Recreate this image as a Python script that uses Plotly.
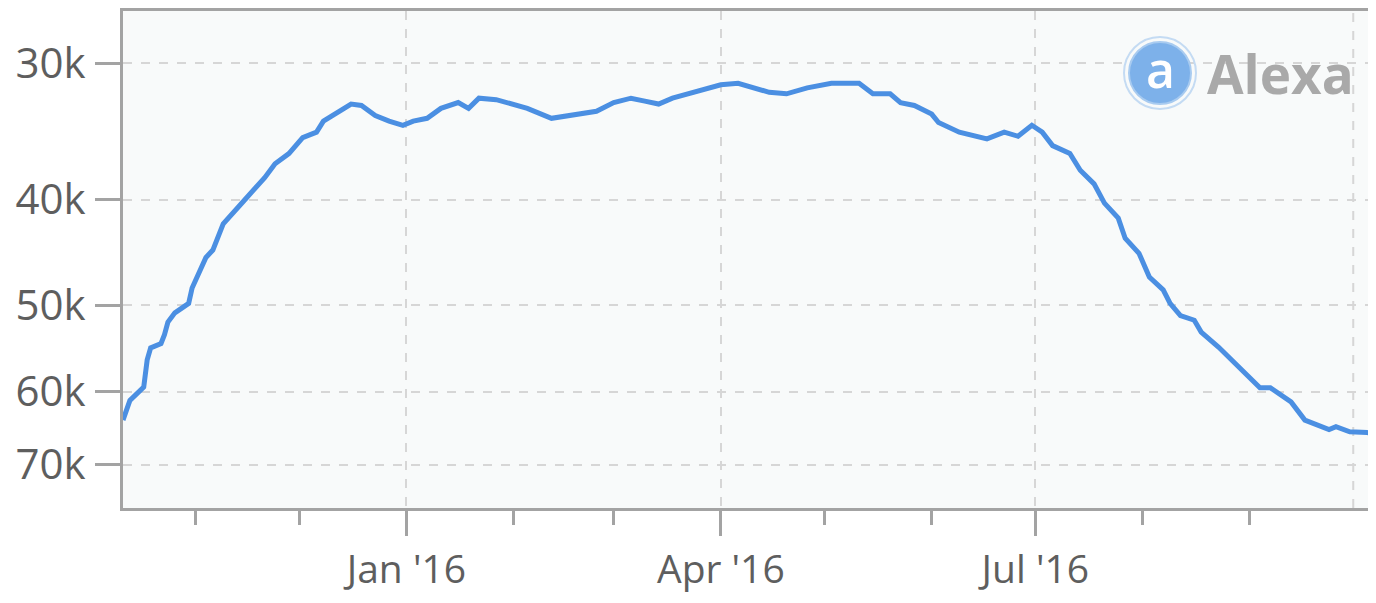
import plotly.graph_objects as go

# ---- data (Alexa traffic rank) ----
dates = [
    "2015-10-11", "2015-10-13", "2015-10-17", "2015-10-18", "2015-10-19", "2015-10-22",
    "2015-10-23", "2015-10-24", "2015-10-26", "2015-10-30", "2015-10-31", "2015-11-02",
    "2015-11-04", "2015-11-06", "2015-11-09", "2015-11-15", "2015-11-21", "2015-11-24",
    "2015-11-28", "2015-12-02", "2015-12-06", "2015-12-08", "2015-12-13", "2015-12-16",
    "2015-12-19", "2015-12-23", "2015-12-27", "2015-12-31", "2016-01-03", "2016-01-07",
    "2016-01-11", "2016-01-16", "2016-01-19", "2016-01-22", "2016-01-27", "2016-01-31",
    "2016-02-05", "2016-02-12", "2016-02-19", "2016-02-25", "2016-03-01", "2016-03-06",
    "2016-03-10", "2016-03-14", "2016-03-18", "2016-03-24", "2016-03-28", "2016-04-01",
    "2016-04-06", "2016-04-10", "2016-04-15", "2016-04-20", "2016-04-26", "2016-05-03",
    "2016-05-11", "2016-05-15", "2016-05-20", "2016-05-23", "2016-05-27", "2016-06-01",
    "2016-06-03", "2016-06-09", "2016-06-14", "2016-06-17", "2016-06-22", "2016-06-26",
    "2016-06-30", "2016-07-03", "2016-07-06", "2016-07-11", "2016-07-14", "2016-07-18",
    "2016-07-21", "2016-07-25", "2016-07-27", "2016-07-31", "2016-08-03", "2016-08-07",
    "2016-08-09", "2016-08-12", "2016-08-16", "2016-08-18", "2016-08-23", "2016-08-29",
    "2016-09-01", "2016-09-04", "2016-09-07", "2016-09-13", "2016-09-17", "2016-09-19",
    "2016-09-24", "2016-09-26", "2016-09-30", "2016-10-05", "2016-10-08",
]
rank = [
    63700, 61100, 59400, 56100, 54700, 54200,
    53200, 51800, 50800, 49800, 48200, 46700,
    45200, 44500, 42100, 40100, 38200, 37100,
    36300, 35100, 34700, 33900, 33200, 32700,
    32800, 33500, 33900, 34200, 33900, 33700,
    33000, 32600, 33000, 32300, 32400, 32700,
    33000, 33700, 33400, 33200, 32600, 32300,
    32500, 32700, 32300, 31900, 31700, 31400,
    31300, 31600, 31900, 32000, 31600, 31300,
    31300, 32000, 32000, 32600, 32800, 33400,
    34000, 34700, 35000, 35200, 34700, 35000,
    34200, 34700, 35700, 36300, 37600, 38700,
    40300, 41600, 43400, 44800, 47100, 48400,
    49800, 51100, 51600, 52900, 54600, 57100,
    58200, 59500, 59500, 61300, 63700, 64100,
    65000, 64600, 65300, 65400, 65700,
]

y_tick_vals = [30000, 40000, 50000, 60000, 70000]
y_tick_text = ["30k", "40k", "50k", "60k", "70k"]
x_tick_vals = ["2016-01-01", "2016-04-01", "2016-07-01"]
x_tick_text = ["Jan '16", "Apr '16", "Jul '16"]
x_minor_vals = ["2015-11-01", "2015-12-01", "2016-02-01", "2016-03-01",
                "2016-05-01", "2016-06-01", "2016-08-01", "2016-09-01"]
x_extra_grid = ["2016-10-01"]

# the page body adds an 8px margin on every side; keep the figure inside the
# window so that no scrollbar appears
OFF = 8
W, H = 1376 - 2 * OFF, 603 - 2 * OFF
ML, MR, MT = 123 - OFF, 0, 11 - OFF
MB = H - (508 - OFF)
AX = "#a3a3a3"
GRID = "#d6d6d6"
TXT = "#5e5e5e"
FONT = "Open Sans"

fig = go.Figure()
fig.add_trace(go.Scatter(
    x=dates, y=rank, mode="lines",
    line=dict(color="#4b8fe2", width=5),
    hoverinfo="x+y", showlegend=False,
))

fig.update_xaxes(
    type="date", automargin=False,
    range=["2015-10-11", "2016-10-05 06:30"],
    tickmode="array", tickvals=x_tick_vals, ticktext=x_tick_text,
    ticks="outside", ticklen=25, tickwidth=3, tickcolor=AX,
    showline=True, linecolor=AX, linewidth=3, mirror=True,
    showgrid=True, gridcolor=GRID, gridwidth=2, griddash="dash",
    minor=dict(tickmode="array", tickvals=x_minor_vals, ticks="outside",
               ticklen=14, tickwidth=3, tickcolor=AX, showgrid=False),
    tickfont=dict(family=FONT, size=39, color=TXT),
    ticklabelstandoff=0,
    zeroline=False,
)
fig.update_yaxes(
    type="log", automargin=False,
    range=[4.8847, 4.4293],
    tickmode="array", tickvals=y_tick_vals, ticktext=y_tick_text,
    ticks="outside", ticklen=25, tickwidth=3, tickcolor=AX,
    showline=True, linecolor=AX, linewidth=3, mirror=False,
    showgrid=True, gridcolor=GRID, gridwidth=2, griddash="dash",
    tickfont=dict(family=FONT, size=42, color=TXT),
    ticklabelstandoff=1,
    zeroline=False,
)

pw = W - ML - MR
ph = H - MT - MB
def px_x(px):
    return (px - OFF - ML) / pw
def px_y(py):
    return (H - MB - (py - OFF)) / ph

shapes = []
for d in x_extra_grid:
    shapes.append(dict(type="line", xref="x", yref="paper", x0=d, x1=d, y0=0, y1=1,
                       line=dict(color=GRID, width=2, dash="dash"), layer="below"))

cx, cy = px_x(1160), px_y(73)
shapes.append(dict(type="circle", xref="paper", yref="paper",
                   xsizemode="pixel", ysizemode="pixel", xanchor=cx, yanchor=cy,
                   x0=-36, x1=36, y0=-36, y1=36,
                   line=dict(color="#c4dbf3", width=2), fillcolor="rgba(255,255,255,0)"))
shapes.append(dict(type="circle", xref="paper", yref="paper",
                   xsizemode="pixel", ysizemode="pixel", xanchor=cx, yanchor=cy,
                   x0=-31, x1=31, y0=-31, y1=31,
                   line=dict(color="#a8cbf0", width=2), fillcolor="#7db1ea"))

annotations = [
    dict(x=cx, y=cy, xref="paper", yref="paper", text="a", showarrow=False,
         xanchor="center", yanchor="middle", yshift=4,
         font=dict(family=FONT, size=50, color="white", weight=600)),
    dict(x=px_x(1205), y=px_y(73), xref="paper", yref="paper", text="Alexa",
         showarrow=False, xanchor="left", yanchor="middle",
         font=dict(family=FONT, size=53, color="#a9a9a9", weight=700)),
]

fig.update_layout(
    width=W, height=H,
    margin=dict(l=ML, r=MR, t=MT, b=MB),
    paper_bgcolor="white",
    plot_bgcolor="#f8fafa",
    shapes=shapes,
    annotations=annotations,
    showlegend=False,
)

fig.write_html("out.html")
